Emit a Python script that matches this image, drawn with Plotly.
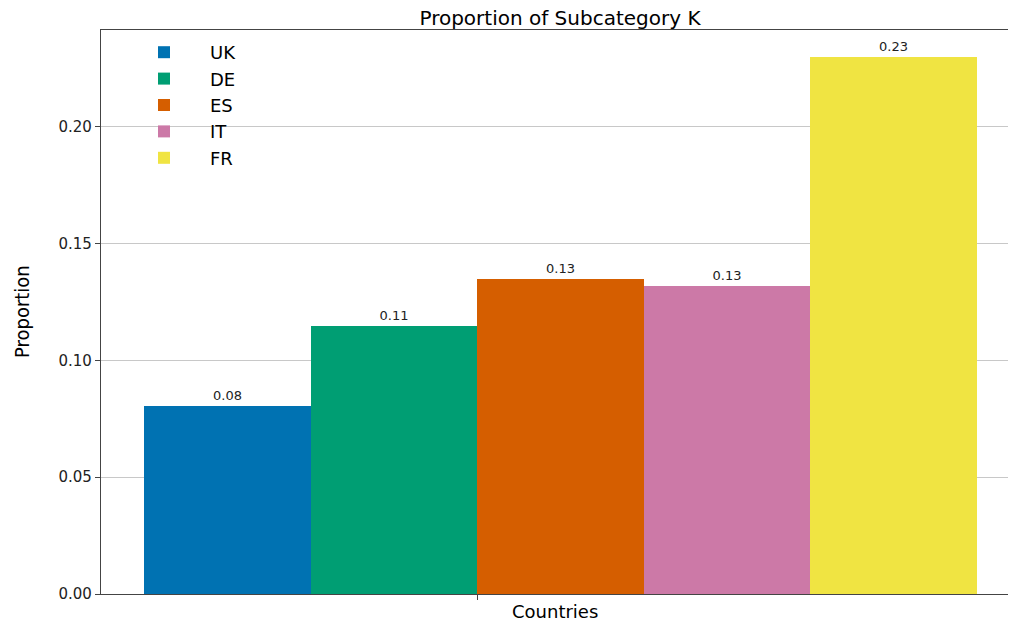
import plotly.graph_objects as go

countries = ["UK", "DE", "ES", "IT", "FR"]
proportions = [0.0805, 0.1148, 0.1349, 0.1319, 0.2300]
colors = ["#0072B2", "#009E73", "#D55E00", "#CC79A7", "#F0E442"]
y_ticks = [0.00, 0.05, 0.10, 0.15, 0.20]
y_tick_labels = ["0.00", "0.05", "0.10", "0.15", "0.20"]

FONT = "DejaVu Sans"
W, H = 1009, 623
L, R, T, B = 101, 1, 30, 29
plot_w = W - L - R
plot_h = H - T - B

fig = go.Figure()
for name, val, col in zip(countries, proportions, colors):
    fig.add_trace(go.Bar(
        x=[0], y=[val], name=name,
        marker=dict(color=col, line=dict(width=0)),
        texttemplate="%{y:.2f}", textposition="outside",
        textfont=dict(family=FONT, size=13, color="#222"),
        cliponaxis=False,
    ))

fig.update_layout(
    width=W, height=H,
    margin=dict(l=L, r=R, t=T, b=B),
    paper_bgcolor="white", plot_bgcolor="white",
    barmode="group", bargap=0, bargroupgap=0,
    title=dict(text="Proportion of Subcategory K", x=560 / W, xanchor="center", xref="container",
               y=1 - 18 / H, yanchor="middle", yref="container",
               font=dict(family=FONT, size=20, color="black")),
    legend=dict(x=(118 - L) / plot_w, y=1 - 4 / plot_h, xanchor="left", yanchor="top",
                bgcolor="rgba(0,0,0,0)", borderwidth=0,
                font=dict(family=FONT, size=18, color="black"),
                itemwidth=82),
    showlegend=True,
)

fig.add_annotation(text="Countries", x=0.5, y=-(611 - (H - B)) / plot_h, xref="paper", yref="paper",
                   xanchor="center", yanchor="middle", showarrow=False,
                   font=dict(family=FONT, size=18, color="black"))
fig.add_annotation(text="Proportion", x=(22 - L) / plot_w, y=0.5, xref="paper", yref="paper",
                   xanchor="center", yanchor="middle", showarrow=False, textangle=-90,
                   font=dict(family="DejaVu Sans Condensed, DejaVu Sans", size=20, color="black"))

fig.update_xaxes(
    range=[-0.5516, 0.5372],
    tickvals=[-0.1], ticktext=[""],
    ticks="outside", ticklen=5, tickcolor="#444",
    showgrid=False, zeroline=False, automargin=False,
    showline=True, linecolor="#444", linewidth=1.2, mirror=True,
)
fig.update_yaxes(
    range=[0, 0.2415],
    tickvals=y_ticks, ticktext=y_tick_labels,
    ticks="outside", ticklen=5, tickcolor="#444",
    tickfont=dict(family=FONT, size=15, color="#222"),
    showgrid=True, gridcolor="#c8c8c8", gridwidth=1,
    zeroline=False, automargin=False,
    showline=True, linecolor="#444", linewidth=1.2,
)

fig.write_html("out.html", config={"displayModeBar": False},
               post_script="document.body.style.margin='0';document.body.style.overflow='hidden';")
